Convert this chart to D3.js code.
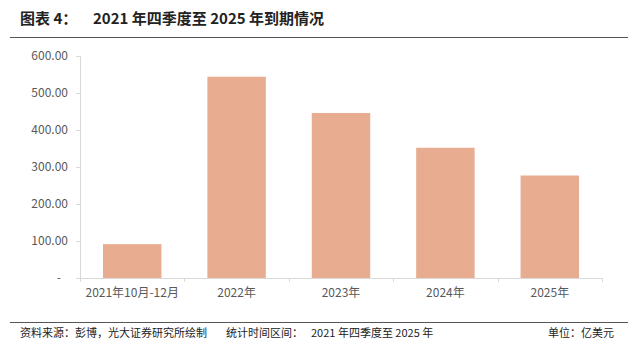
<!DOCTYPE html>
<html>
<head>
<meta charset="utf-8">
<script src="https://cdn.jsdelivr.net/npm/d3@7"></script>
<style>
  body { margin: 0; background: #fff; }
  text { font-family: "Noto Sans CJK SC", "Noto Sans", sans-serif; }
</style>
</head>
<body>
<div id="chart"></div>
<script>
// categories and values (亿美元)
const categories = ["2021年10月-12月", "2022年", "2023年", "2024年", "2025年"];
const values = [91.5, 544, 446, 352, 277];
const yTicks = [0, 100, 200, 300, 400, 500, 600];

const W = 640, H = 351;
const margin = { top: 56, right: 38, bottom: 73, left: 80 };
const width = W - margin.left - margin.right;
const height = H - margin.top - margin.bottom;

const svg = d3.select("#chart").append("svg")
  .attr("width", W).attr("height", H);

// title + rules
svg.append("text").attr("x", 20).attr("y", 24)
  .attr("font-size", 15).attr("font-weight", "bold").attr("fill", "#222")
  .text("图表 4：");
svg.append("text").attr("x", 93).attr("y", 24)
  .attr("font-size", 15).attr("font-weight", "bold").attr("fill", "#222")
  .text("2021 年四季度至 2025 年到期情况");
svg.append("line").attr("x1", 10).attr("x2", 628).attr("y1", 37.5).attr("y2", 37.5)
  .attr("stroke", "#555").attr("stroke-width", 1);
svg.append("line").attr("x1", 10).attr("x2", 628).attr("y1", 322.5).attr("y2", 322.5)
  .attr("stroke", "#555").attr("stroke-width", 1);

// footer
const footer = [
  { x: 20, t: "资料来源：彭博，光大证券研究所绘制" },
  { x: 226, t: "统计时间区间：" },
  { x: 311, t: "2021 年四季度至 2025 年" }
];
svg.selectAll(".foot").data(footer).join("text")
  .attr("class", "foot")
  .attr("x", d => d.x).attr("y", 337)
  .attr("font-size", 11).attr("fill", "#222")
  .text(d => d.t);
svg.append("text").attr("x", 614).attr("y", 337).attr("text-anchor", "end")
  .attr("font-size", 11).attr("fill", "#222")
  .text("单位：亿美元");

const g = svg.append("g")
  .attr("transform", "translate(" + margin.left + "," + margin.top + ")");

const x = d3.scaleBand().domain(categories).range([0, width]).paddingInner(0.44).paddingOuter(0.22);
const y = d3.scaleLinear().domain([0, 600]).range([height, 0]);

// y axis
const yAxis = g.append("g")
  .call(d3.axisLeft(y).tickValues(yTicks).tickSize(4).tickPadding(8)
    .tickFormat(d => d === 0 ? "-" : d3.format(".2f")(d)));
yAxis.select(".domain").attr("stroke", "#d9d9d9");
yAxis.selectAll(".tick line").attr("stroke", "#d9d9d9");
yAxis.selectAll(".tick text").attr("fill", "#595959").attr("font-size", 12)
  .attr("dx", d => d === 0 ? -7 : 0);

// x axis with ticks on band boundaries
const xAxis = g.append("g").attr("transform", "translate(0," + height + ")")
  .call(d3.axisBottom(x).tickSize(0).tickPadding(10));
xAxis.select(".domain").attr("stroke", "#d9d9d9");
xAxis.selectAll(".tick text").attr("fill", "#595959").attr("font-size", 12);
g.append("g").selectAll("line")
  .data(d3.range(categories.length + 1))
  .join("line")
  .attr("x1", i => Math.round(i * width / categories.length) + 0.5)
  .attr("x2", i => Math.round(i * width / categories.length) + 0.5)
  .attr("y1", height).attr("y2", height + 4)
  .attr("stroke", "#d9d9d9");

// bars
g.selectAll(".bar")
  .data(values)
  .join("rect")
  .attr("class", "bar")
  .attr("x", (d, i) => x(categories[i]))
  .attr("y", d => y(d))
  .attr("width", x.bandwidth())
  .attr("height", d => height - y(d))
  .attr("fill", "#E8AD91");
</script>
</body>
</html>
